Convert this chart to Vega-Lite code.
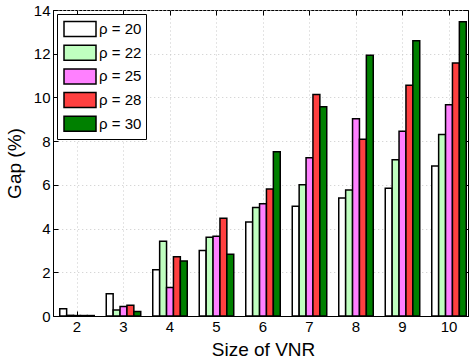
{
  "$schema": "https://vega.github.io/schema/vega-lite/v6.json",
  "width": 415,
  "height": 306,
  "autosize": "none",
  "padding": {"left": 53, "top": 10, "right": 1, "bottom": 42},
  "config": {
    "font": "Liberation Sans",
    "view": {"stroke": "black", "strokeWidth": 1},
    "axis": {
      "labelFontSize": 15,
      "labelColor": "black",
      "titleFontSize": 19,
      "titleFontWeight": "normal",
      "titleColor": "black",
      "domainColor": "black",
      "tickColor": "black",
      "tickSize": -5,
      "gridColor": "#c8c8c8",
      "gridDash": [1, 3],
      "gridWidth": 1
    }
  },
  "data": {
    "values": [
      {"size": 2, "rho": "ρ = 20", "gap": 0.33},
      {"size": 2, "rho": "ρ = 22", "gap": 0.03},
      {"size": 2, "rho": "ρ = 25", "gap": 0.02},
      {"size": 2, "rho": "ρ = 28", "gap": 0.02},
      {"size": 2, "rho": "ρ = 30", "gap": 0.02},
      {"size": 3, "rho": "ρ = 20", "gap": 1.02},
      {"size": 3, "rho": "ρ = 22", "gap": 0.27},
      {"size": 3, "rho": "ρ = 25", "gap": 0.44},
      {"size": 3, "rho": "ρ = 28", "gap": 0.49},
      {"size": 3, "rho": "ρ = 30", "gap": 0.21},
      {"size": 4, "rho": "ρ = 20", "gap": 2.12},
      {"size": 4, "rho": "ρ = 22", "gap": 3.42},
      {"size": 4, "rho": "ρ = 25", "gap": 1.3},
      {"size": 4, "rho": "ρ = 28", "gap": 2.71},
      {"size": 4, "rho": "ρ = 30", "gap": 2.52},
      {"size": 5, "rho": "ρ = 20", "gap": 3.0},
      {"size": 5, "rho": "ρ = 22", "gap": 3.6},
      {"size": 5, "rho": "ρ = 25", "gap": 3.65},
      {"size": 5, "rho": "ρ = 28", "gap": 4.47},
      {"size": 5, "rho": "ρ = 30", "gap": 2.82},
      {"size": 6, "rho": "ρ = 20", "gap": 4.3},
      {"size": 6, "rho": "ρ = 22", "gap": 4.96},
      {"size": 6, "rho": "ρ = 25", "gap": 5.14},
      {"size": 6, "rho": "ρ = 28", "gap": 5.81},
      {"size": 6, "rho": "ρ = 30", "gap": 7.52},
      {"size": 7, "rho": "ρ = 20", "gap": 5.02},
      {"size": 7, "rho": "ρ = 22", "gap": 6.01},
      {"size": 7, "rho": "ρ = 25", "gap": 7.24},
      {"size": 7, "rho": "ρ = 28", "gap": 10.13},
      {"size": 7, "rho": "ρ = 30", "gap": 9.57},
      {"size": 8, "rho": "ρ = 20", "gap": 5.4},
      {"size": 8, "rho": "ρ = 22", "gap": 5.77},
      {"size": 8, "rho": "ρ = 25", "gap": 9.02},
      {"size": 8, "rho": "ρ = 28", "gap": 8.09},
      {"size": 8, "rho": "ρ = 30", "gap": 11.93},
      {"size": 9, "rho": "ρ = 20", "gap": 5.84},
      {"size": 9, "rho": "ρ = 22", "gap": 7.15},
      {"size": 9, "rho": "ρ = 25", "gap": 8.45},
      {"size": 9, "rho": "ρ = 28", "gap": 10.56},
      {"size": 9, "rho": "ρ = 30", "gap": 12.59},
      {"size": 10, "rho": "ρ = 20", "gap": 6.86},
      {"size": 10, "rho": "ρ = 22", "gap": 8.3},
      {"size": 10, "rho": "ρ = 25", "gap": 9.67},
      {"size": 10, "rho": "ρ = 28", "gap": 11.57},
      {"size": 10, "rho": "ρ = 30", "gap": 13.46}
    ]
  },
  "layer": [
    {
      "mark": {"type": "bar", "stroke": "black", "strokeWidth": 1.5},
      "encoding": {
        "x": {
          "field": "size", "type": "ordinal",
          "scale": {"range": [0.75, 419.25], "paddingInner": 0, "paddingOuter": 0},
          "axis": {"title": "Size of VNR", "labelAngle": 0, "grid": true, "labelPadding": 8, "titlePadding": 6}
        },
        "xOffset": {
          "field": "rho", "type": "nominal",
          "scale": {"paddingInner": 0, "paddingOuter": 0.87}
        },
        "y": {
          "field": "gap", "type": "quantitative",
          "scale": {"domain": [0, 14], "nice": false},
          "axis": {"title": "Gap (%)", "values": [0, 2, 4, 6, 8, 10, 12, 14], "grid": true, "labelPadding": 8, "titlePadding": 9}
        },
        "fill": {
          "field": "rho", "type": "nominal",
          "scale": {
            "domain": ["ρ = 20", "ρ = 22", "ρ = 25", "ρ = 28", "ρ = 30"],
            "range": ["#ffffff", "#c0ffc0", "#ff80ff", "#ff4040", "#008000"]
          },
          "legend": {
            "title": null,
            "orient": "none",
            "legendX": 4,
            "legendY": 4,
            "fillColor": "white",
            "strokeColor": "black",
            "padding": 4,
            "symbolType": "M-1.6,-0.75H1.6V0.75H-1.6Z",
            "symbolSize": 400,
            "symbolStrokeColor": "black",
            "symbolStrokeWidth": 1.5,
            "symbolOpacity": 1,
            "symbolOffset": 8,
            "labelFontSize": 15,
            "labelColor": "black",
            "labelOffset": 8,
            "rowPadding": 1.7
          }
        }
      }
    },
    {
      "mark": {"type": "bar", "opacity": 0},
      "encoding": {
        "x": {"field": "size", "type": "ordinal", "axis": {"orient": "top", "labels": false, "title": null, "domain": false}},
        "y": {"field": "gap", "type": "quantitative", "axis": {"orient": "right", "labels": false, "title": null, "domain": false, "values": [0, 2, 4, 6, 8, 10, 12, 14]}}
      }
    }
  ],
  "resolve": {"axis": {"x": "independent", "y": "independent"}}
}
